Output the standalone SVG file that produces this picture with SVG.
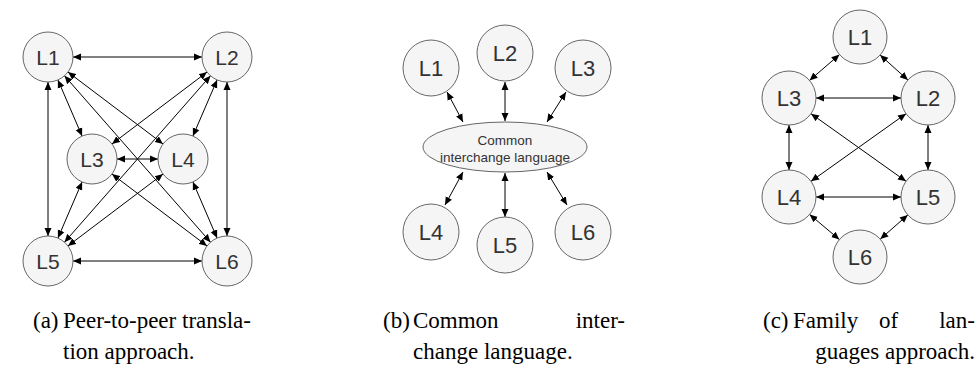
<svg xmlns="http://www.w3.org/2000/svg" width="976" height="379" viewBox="0 0 976 379">
<defs>
<style>
.n circle, .n ellipse { fill:#f5f5f5; stroke:#666; stroke-width:1; }
.n text { font-family:"Liberation Sans", Arial, sans-serif; font-size:21px; fill:#333; text-anchor:middle; }
.n text.b { font-size:22px; }
.n text.s { font-size:13.5px; }
.e line { stroke:#000; stroke-width:1; marker-start:url(#ah); marker-end:url(#ah); }
.cap { font-family:"Liberation Serif", "Times New Roman", serif; font-size:23px; fill:#000; }
</style>
<marker id="ah" viewBox="0 0 8 8" refX="8" refY="4" markerWidth="8" markerHeight="8" markerUnits="userSpaceOnUse" orient="auto-start-reverse">
<path d="M0,0.5 L8,4 L0,7.5 z" fill="#000"/>
</marker>
</defs>
<rect width="976" height="379" fill="#fff"/>

<g id="edges-a" class="e">
<line x1="73" y1="57" x2="202" y2="57"/>
<line x1="57.9" y1="79.9" x2="82.1" y2="136.1"/>
<line x1="68" y1="72.1" x2="163" y2="143.9"/>
<line x1="48" y1="82" x2="48" y2="236"/>
<line x1="64.5" y1="75.8" x2="210.5" y2="242.2"/>
<line x1="207" y1="72.1" x2="112" y2="143.9"/>
<line x1="217.1" y1="79.9" x2="192.9" y2="136.1"/>
<line x1="210.5" y1="75.8" x2="64.5" y2="242.2"/>
<line x1="227" y1="82" x2="227" y2="236"/>
<line x1="117" y1="159" x2="158" y2="159"/>
<line x1="82.1" y1="181.9" x2="57.9" y2="238.1"/>
<line x1="112" y1="174.1" x2="207" y2="245.9"/>
<line x1="163" y1="174.1" x2="68" y2="245.9"/>
<line x1="192.9" y1="181.9" x2="217.1" y2="238.1"/>
<line x1="73" y1="261" x2="202" y2="261"/>
</g>
<g id="a-L1" class="n"><circle cx="48" cy="57" r="25"/><text x="48" y="64.5">L1</text></g>
<g id="a-L2" class="n"><circle cx="227" cy="57" r="25"/><text x="227" y="64.5">L2</text></g>
<g id="a-L3" class="n"><circle cx="92" cy="159" r="25"/><text x="92" y="166.5">L3</text></g>
<g id="a-L4" class="n"><circle cx="183" cy="159" r="25"/><text x="183" y="166.5">L4</text></g>
<g id="a-L5" class="n"><circle cx="48" cy="261" r="25"/><text x="48" y="268.5">L5</text></g>
<g id="a-L6" class="n"><circle cx="227" cy="261" r="25"/><text x="227" y="268.5">L6</text></g>

<g id="edges-b" class="e">
<line x1="447" y1="92" x2="463" y2="122"/>
<line x1="505" y1="82" x2="505" y2="121"/>
<line x1="566" y1="92" x2="547" y2="122"/>
<line x1="463" y1="172" x2="445" y2="205"/>
<line x1="505" y1="173" x2="505" y2="217"/>
<line x1="547" y1="172" x2="567" y2="205"/>
</g>
<g id="b-L1" class="n"><circle cx="431" cy="68" r="28"/><text class="b" x="431" y="76">L1</text></g>
<g id="b-L2" class="n"><circle cx="505" cy="53" r="28"/><text class="b" x="505" y="61">L2</text></g>
<g id="b-L3" class="n"><circle cx="583" cy="68" r="28"/><text class="b" x="583" y="76">L3</text></g>
<g id="b-C" class="n"><ellipse cx="505" cy="147" rx="82" ry="25"/><text class="s" x="505" y="145">Common</text><text class="s" x="505" y="162">interchange language</text></g>
<g id="b-L4" class="n"><circle cx="431" cy="232" r="28"/><text class="b" x="431" y="240">L4</text></g>
<g id="b-L5" class="n"><circle cx="505" cy="245" r="28"/><text class="b" x="505" y="253">L5</text></g>
<g id="b-L6" class="n"><circle cx="583" cy="232" r="28"/><text class="b" x="583" y="240">L6</text></g>

<g id="edges-c" class="e">
<line x1="839.5" y1="54.6" x2="809.5" y2="80.4"/>
<line x1="880.1" y1="55" x2="907.9" y2="80"/>
<line x1="816" y1="98" x2="901" y2="98"/>
<line x1="789" y1="125" x2="789" y2="170"/>
<line x1="928" y1="125" x2="928" y2="170"/>
<line x1="811" y1="113.7" x2="906" y2="181.3"/>
<line x1="906" y1="113.7" x2="811" y2="181.3"/>
<line x1="816" y1="197" x2="901" y2="197"/>
<line x1="809.6" y1="214.4" x2="839.4" y2="239.6"/>
<line x1="907.8" y1="214.9" x2="880.3" y2="239.1"/>
</g>
<g id="c-L1" class="n"><circle cx="860" cy="37" r="27"/><text class="b" x="860" y="45">L1</text></g>
<g id="c-L3" class="n"><circle cx="789" cy="98" r="27"/><text class="b" x="789" y="106">L3</text></g>
<g id="c-L2" class="n"><circle cx="928" cy="98" r="27"/><text class="b" x="928" y="106">L2</text></g>
<g id="c-L4" class="n"><circle cx="789" cy="197" r="27"/><text class="b" x="789" y="205">L4</text></g>
<g id="c-L5" class="n"><circle cx="928" cy="197" r="27"/><text class="b" x="928" y="205">L5</text></g>
<g id="c-L6" class="n"><circle cx="860" cy="257" r="27"/><text class="b" x="860" y="265">L6</text></g>

<g id="captions" class="cap">
<text x="33" y="328">(a)</text>
<text x="63" y="328" textLength="188" lengthAdjust="spacing">Peer-to-peer transla-</text>
<text x="63" y="359">tion approach.</text>
<text x="383" y="328">(b)</text>
<text x="413" y="328">Common</text>
<text x="625" y="328" text-anchor="end">inter-</text>
<text x="413" y="359">change language.</text>
<text x="763" y="328">(c)</text>
<text x="793" y="328">Family</text>
<text x="879" y="328">of</text>
<text x="975" y="328" text-anchor="end">lan-</text>
<text x="975" y="359" text-anchor="end">guages approach.</text>
</g>
</svg>
